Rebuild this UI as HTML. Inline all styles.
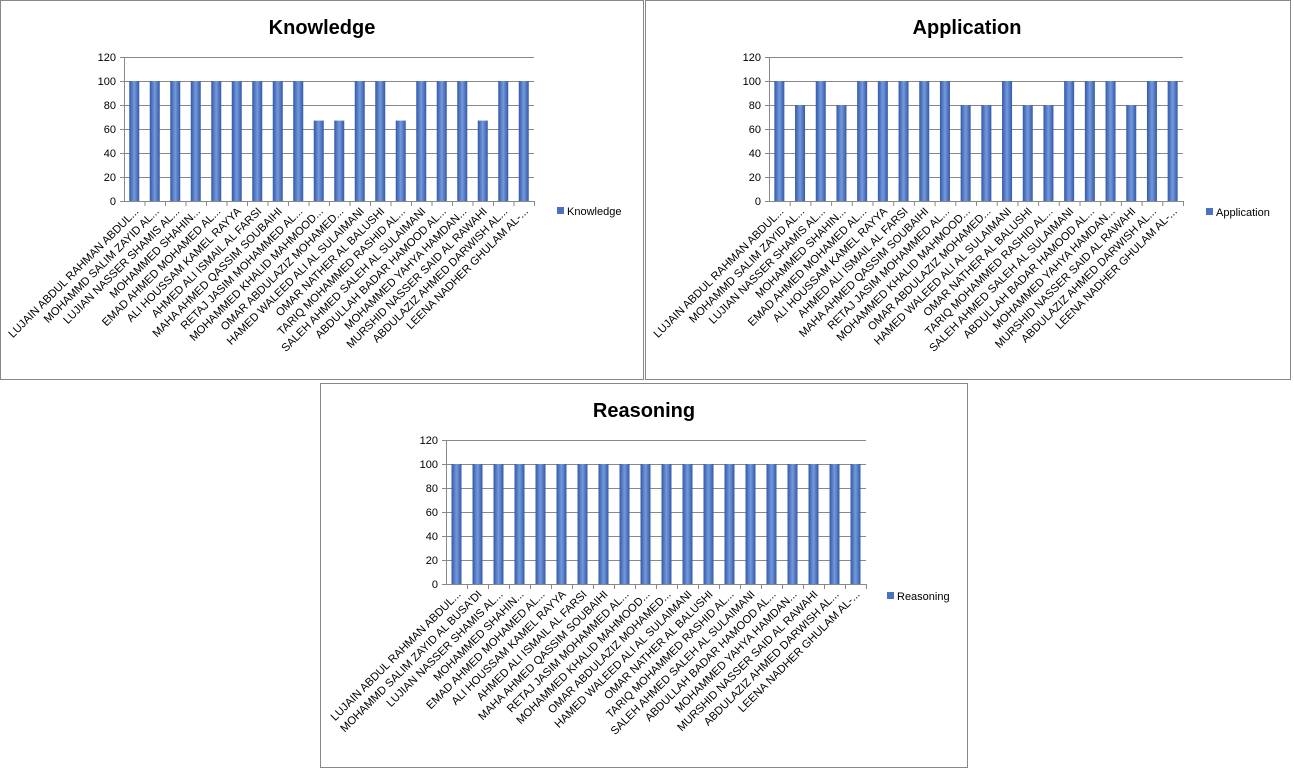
<!DOCTYPE html><html><head><meta charset="utf-8"><style>
body{margin:0;background:#fff;width:1294px;height:770px;overflow:hidden}
svg{position:absolute;left:0;top:0}
</style></head><body>
<svg id="s" width="1294" height="770" xmlns="http://www.w3.org/2000/svg" font-family="Liberation Sans, sans-serif">
<defs><linearGradient id="g" x1="0" x2="1" y1="0" y2="0">
<stop offset="0" stop-color="#3359a8"/><stop offset="0.5" stop-color="#7499dc"/><stop offset="1" stop-color="#3359a8"/></linearGradient></defs>
</svg>
<script>
const names=["LUJAIN ABDUL RAHMAN ABDUL...","MOHAMMD SALIM ZAYID AL...","LUJIAN NASSER SHAMIS AL...","MOHAMMED SHAHIN...","EMAD AHMED MOHAMED AL...","ALI HOUSSAM KAMEL RAYYA","AHMED ALI ISMAIL AL FARSI","MAHA AHMED QASSIM SOUBAIHI","RETAJ JASIM MOHAMMED AL...","MOHAMMED KHALID MAHMOOD...","OMAR ABDULAZIZ MOHAMED...","HAMED WALEED ALI AL SULAIMANI","OMAR NATHER AL BALUSHI","TARIQ MOHAMMED RASHID AL...","SALEH AHMED SALEH AL SULAIMANI","ABDULLAH BADAR HAMOOD AL...","MOHAMMED YAHYA HAMDAN...","MURSHID NASSER SAID AL RAWAHI","ABDULAZIZ AHMED DARWISH AL...","LEENA NADHER GHULAM AL-..."];
const s=document.getElementById('s');let h='';
function chart(px,py,pw,ph,title,tx,ty,ax,top,bot,step,vals,lx,ly,nm){
 h+=`<rect x="${px+.5}" y="${py+.5}" width="${pw}" height="${ph}" fill="#fff" stroke="#888"/>`;
 h+=`<text x="${tx}" y="${ty}" font-size="20" font-weight="bold" text-anchor="middle">${title}</text>`;
 const end=ax+step*20,sc=(bot-top)/120;
 for(let v=0;v<=120;v+=20){const y=bot-v*sc;
  h+=`<line x1="${ax}" x2="${end}" y1="${y+.5}" y2="${y+.5}" stroke="#888" stroke-width="1"/>`;
  h+=`<line x1="${ax-4}" x2="${ax}" y1="${y+.5}" y2="${y+.5}" stroke="#888"/>`;
  h+=`<text x="${ax-8}" y="${y+4}" font-size="11" text-anchor="end">${v}</text>`;}
 h+=`<line x1="${ax+.5}" x2="${ax+.5}" y1="${top}" y2="${bot}" stroke="#888"/>`;
 for(let i=0;i<20;i++){const cx=ax+step*(i+.5),bh=vals[i]*sc;
  h+=`<rect x="${cx-5}" y="${bot-bh}" width="10" height="${bh}" fill="url(#g)"/>`;
  h+=`<line x1="${ax+step*(i+1)+.5}" x2="${ax+step*(i+1)+.5}" y1="${bot}" y2="${bot+5}" stroke="#888"/>`;
  h+=`<text transform="translate(${cx+5},${bot+11}) rotate(-45)" font-size="11.2" text-anchor="end">${nm[i]}</text>`;}
 h+=`<rect x="${lx}" y="${ly-4}" width="7" height="7" fill="#4a72c0"/><text x="${lx+10}" y="${ly+4}" font-size="11">${title}</text>`;
}
chart(0,0,643,379,"Knowledge",322,34,124,57,201,20.5,[100,100,100,100,100,100,100,100,100,67,67,100,100,67,100,100,100,67,100,100],557,211,names);
chart(645,0,645,379,"Application",967,34,769,57,201,20.7,[100,80,100,80,100,100,100,100,100,80,80,100,80,80,100,100,100,80,100,100],1206,212,names);
const n2=names.slice();n2[1]="MOHAMMD SALIM ZAYID AL BUSA'DI";
chart(320,383,647,384,"Reasoning",644,417,446,440,584,21,Array(20).fill(100),887,596,n2);
s.insertAdjacentHTML('beforeend',h);
</script></body></html>
